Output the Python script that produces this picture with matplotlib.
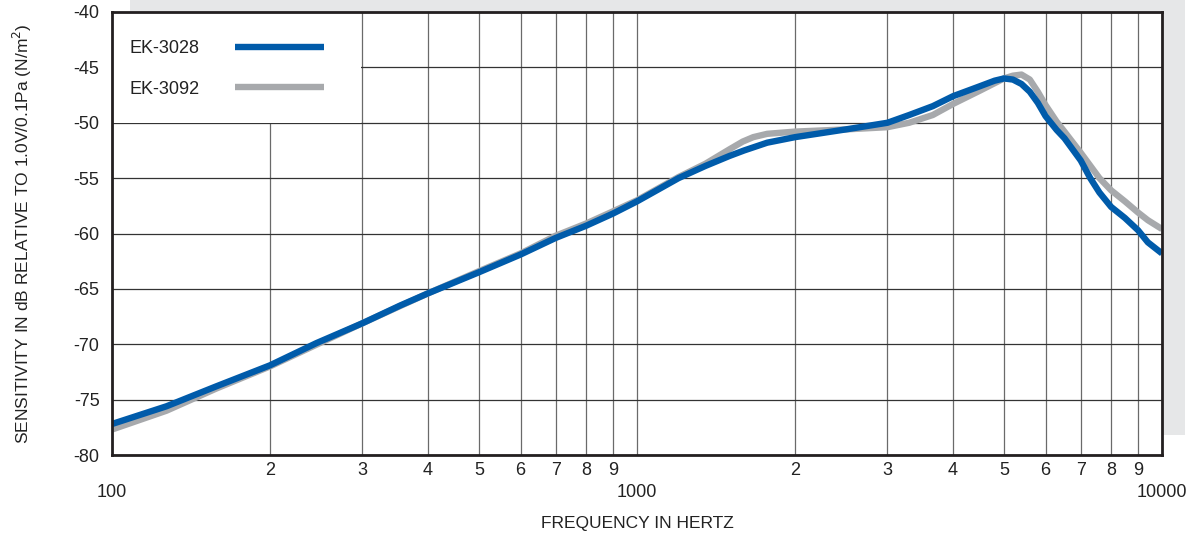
import matplotlib
matplotlib.use("Agg")
import matplotlib.pyplot as plt
from matplotlib.patches import Rectangle
from matplotlib.ticker import FixedLocator, FixedFormatter

plt.rcParams['font.family'] = ['Liberation Sans', 'DejaVu Sans']

# EK-3028 (azul)
freq_a = [100, 127, 158, 200, 245, 300, 354, 400, 500, 600, 700, 800, 900, 1000,
          1200, 1350, 1500, 1600, 1770, 2000, 2500, 3000, 3300, 3660, 4000, 4500,
          4800, 5000, 5200, 5400, 5600, 5800, 6000, 6300, 6520, 7000, 7300, 7600,
          8000, 8500, 9000, 9400, 10000]
db_a = [-77.2, -75.6, -73.8, -71.9, -69.9, -68.1, -66.5, -65.4, -63.5, -61.9, -60.4,
        -59.3, -58.2, -57.1, -55.0, -53.9, -53.0, -52.5, -51.8, -51.3, -50.6, -50.0,
        -49.3, -48.5, -47.6, -46.7, -46.2, -46.0, -46.1, -46.5, -47.2, -48.2, -49.4,
        -50.65, -51.4, -53.4, -55.0, -56.3, -57.6, -58.6, -59.7, -60.8, -61.8]

# EK-3092 (cinza)
freq_b = [100, 127, 158, 200, 300, 400, 500, 600, 700, 800, 900, 1000, 1200, 1350,
          1500, 1590, 1665, 1770, 2000, 2500, 3000, 3300, 3660, 4000, 4500, 5000,
          5200, 5400, 5600, 5800, 6000, 6300, 6520, 7000, 7600, 8000, 8500, 9000,
          9400, 10000]
db_b = [-77.7, -76.0, -74.0, -72.0, -68.1, -65.4, -63.4, -61.8, -60.2, -59.1, -58.0,
        -57.0, -54.9, -53.7, -52.4, -51.7, -51.3, -51.0, -50.8, -50.6, -50.4, -50.0,
        -49.3, -48.3, -47.1, -46.0, -45.75, -45.65, -46.1, -47.2, -48.4, -49.9, -50.8,
        -52.7, -55.0, -56.1, -57.1, -58.1, -58.8, -59.6]

major_ticks = [100, 1000, 10000]
major_labels = ['100', '1000', '10000']
minor_ticks = [m * d for d in (100, 1000) for m in range(2, 10)]
minor_labels = [str(m) for d in (100, 1000) for m in range(2, 10)]
y_ticks = list(range(-80, -39, 5))

fig = plt.figure(figsize=(12.03, 5.38), dpi=100)

# painel cinza de fundo
fig.patches.append(Rectangle((130 / 1203, 103 / 538), 1055 / 1203, 435 / 538,
                             transform=fig.transFigure, facecolor='#e6e7e8',
                             edgecolor='none', zorder=-1))

ax = fig.add_axes([112 / 1203, 83 / 538, 1050 / 1203, 443 / 538])
ax.set_facecolor('white')
ax.set_xscale('log')
ax.set_xlim(100, 10000)
ax.set_ylim(-80, -40)

ax.plot(freq_b, db_b, color='#a7a9ac', lw=4.6, solid_capstyle='butt',
        solid_joinstyle='round', label='EK-3092', zorder=3)
ax.plot(freq_a, db_a, color='#005baa', lw=4.6, solid_capstyle='butt',
        solid_joinstyle='round', label='EK-3028', zorder=4)

# grade
ax.set_axisbelow(True)
ax.xaxis.set_major_locator(FixedLocator(major_ticks))
ax.xaxis.set_major_formatter(FixedFormatter(major_labels))
ax.xaxis.set_minor_locator(FixedLocator(minor_ticks))
ax.xaxis.set_minor_formatter(FixedFormatter(minor_labels))
ax.set_yticks(y_ticks)
ax.set_yticklabels([str(v) for v in y_ticks])
ax.grid(True, which='both', axis='x', color='#6a6a6a', lw=0.9)
ax.grid(True, which='major', axis='y', color='#333333', lw=0.9)

# caixa branca da legenda
ax.add_patch(Rectangle((100, -50), 198, 10, facecolor='white', edgecolor='none', zorder=1))

ax.tick_params(which='both', length=0, labelsize=13, colors='#222222')
ax.tick_params(axis='x', which='minor', pad=5)
ax.tick_params(axis='x', which='major', pad=21)
ax.tick_params(axis='y', pad=9)

for s in ax.spines.values():
    s.set_linewidth(2.0)
    s.set_color('#231f20')
    s.set_zorder(5)

handles, labels = ax.get_legend_handles_labels()
leg = ax.legend(handles[::-1], labels[::-1], loc='upper left', bbox_to_anchor=(0.0013, 0.973),
                frameon=False, markerfirst=False, fontsize=13, handlelength=4.9,
                handletextpad=1.98, labelspacing=1.3)
for t in leg.get_texts():
    t.set_color('#222222')

ax.set_xlabel('FREQUENCY IN HERTZ', fontsize=12.5, color='#222222', labelpad=11)
ax.set_ylabel('SENSITIVITY IN dB RELATIVE TO 1.0V/0.1Pa (N/m$^2$)', fontsize=12.5,
              color='#222222', labelpad=28)

fig.savefig('out.png', dpi=100)
